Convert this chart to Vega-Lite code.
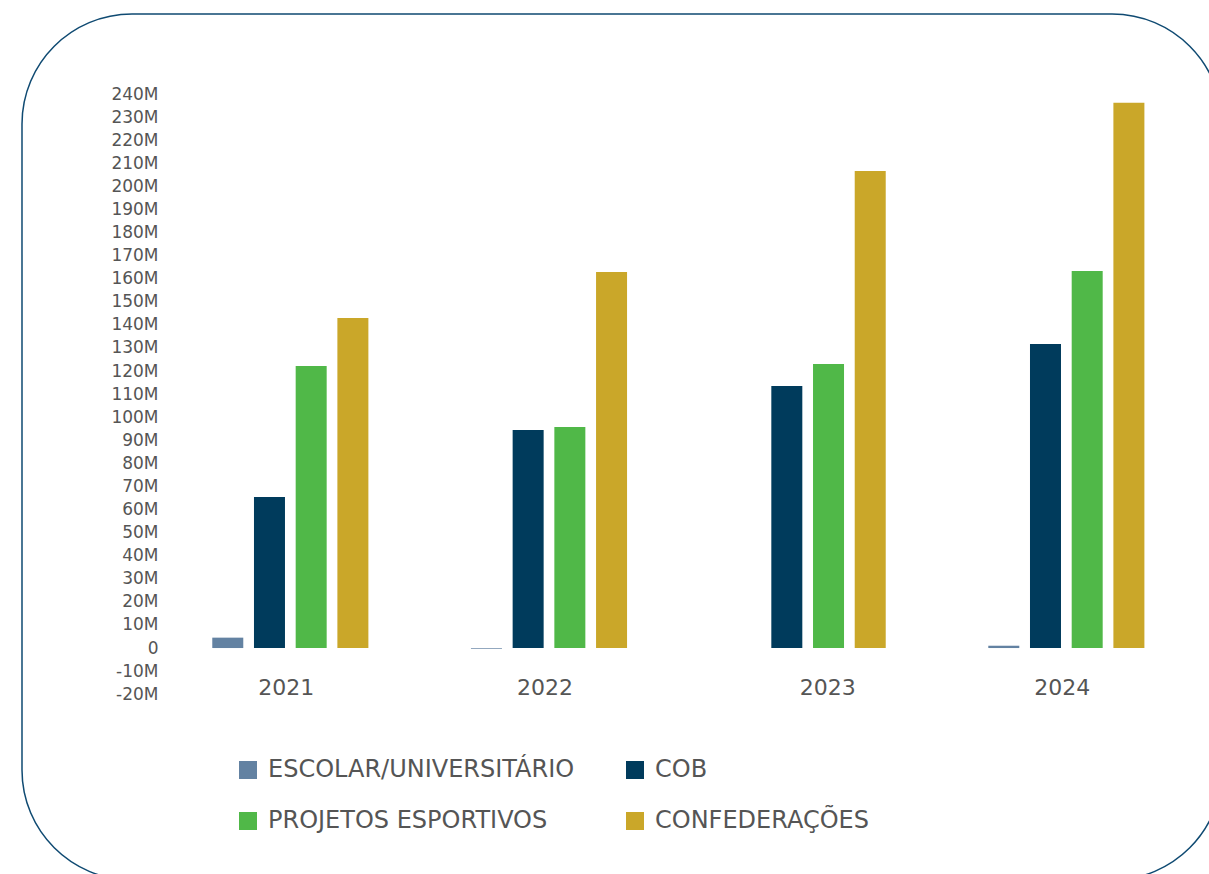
{
  "$schema": "https://vega.github.io/schema/vega-lite/v6.json",
  "width": 1200,
  "height": 866,
  "autosize": {"type": "none"},
  "padding": {"left": 22, "top": 14, "right": -13, "bottom": -6},
  "background": "white",
  "config": {
    "view": {"stroke": "#0f4a72", "strokeWidth": 1.5, "cornerRadius": 110, "fill": "white"},
    "font": "DejaVu Sans"
  },
  "data": {
    "values": [
      {"ano": "2021", "tipo": "ESCOLAR/UNIVERSITÁRIO", "valor": 4.5},
      {"ano": "2021", "tipo": "COB", "valor": 65.4},
      {"ano": "2021", "tipo": "PROJETOS ESPORTIVOS", "valor": 122.2},
      {"ano": "2021", "tipo": "CONFEDERAÇÕES", "valor": 143.0},
      {"ano": "2022", "tipo": "ESCOLAR/UNIVERSITÁRIO", "valor": -0.3},
      {"ano": "2022", "tipo": "COB", "valor": 94.5},
      {"ano": "2022", "tipo": "PROJETOS ESPORTIVOS", "valor": 95.8},
      {"ano": "2022", "tipo": "CONFEDERAÇÕES", "valor": 162.9},
      {"ano": "2023", "tipo": "ESCOLAR/UNIVERSITÁRIO", "valor": 0},
      {"ano": "2023", "tipo": "COB", "valor": 113.5},
      {"ano": "2023", "tipo": "PROJETOS ESPORTIVOS", "valor": 123.1},
      {"ano": "2023", "tipo": "CONFEDERAÇÕES", "valor": 206.7},
      {"ano": "2024", "tipo": "ESCOLAR/UNIVERSITÁRIO", "valor": 1.0},
      {"ano": "2024", "tipo": "COB", "valor": 131.7},
      {"ano": "2024", "tipo": "PROJETOS ESPORTIVOS", "valor": 163.4},
      {"ano": "2024", "tipo": "CONFEDERAÇÕES", "valor": 236.2}
    ]
  },
  "mark": {"type": "bar"},
  "encoding": {
    "x": {
      "field": "ano",
      "type": "nominal",
      "scale": {"paddingInner": 0.3965, "paddingOuter": 0.5178, "align": 0.7103},
      "axis": {
        "title": null,
        "orient": "bottom",
        "offset": -205,
        "domain": false,
        "ticks": false,
        "grid": false,
        "labelAngle": 0,
        "labelBaseline": "top",
        "labelPadding": 2,
        "labelFont": "DejaVu Sans",
        "labelFontSize": 22,
        "labelColor": "#555555",
        "labelOffset": {"condition": {"test": "datum.value === '2023'", "value": 20}, "value": -4}
      }
    },
    "xOffset": {
      "field": "tipo",
      "type": "nominal",
      "sort": ["ESCOLAR/UNIVERSITÁRIO", "COB", "PROJETOS ESPORTIVOS", "CONFEDERAÇÕES"],
      "scale": {"paddingInner": 0.2566, "paddingOuter": 0}
    },
    "y": {
      "field": "valor",
      "type": "quantitative",
      "stack": null,
      "scale": {"domain": [-100.5, 274.7], "nice": false, "zero": false},
      "axis": {
        "title": null,
        "orient": "left",
        "offset": -138,
        "values": [-20, -10, 0, 10, 20, 30, 40, 50, 60, 70, 80, 90, 100, 110, 120, 130, 140, 150, 160, 170, 180, 190, 200, 210, 220, 230, 240],
        "labelExpr": "datum.value == 0 ? '0' : datum.value + 'M'",
        "domain": false,
        "ticks": false,
        "grid": false,
        "labelPadding": 2,
        "labelFont": "DejaVu Sans",
        "labelFontSize": 17,
        "labelColor": "#555555",
        "labelOverlap": false
      }
    },
    "color": {
      "field": "tipo",
      "type": "nominal",
      "scale": {
        "domain": ["ESCOLAR/UNIVERSITÁRIO", "PROJETOS ESPORTIVOS", "COB", "CONFEDERAÇÕES"],
        "range": ["#6382a2", "#50b848", "#003b5c", "#caa729"]
      },
      "legend": {
        "title": null,
        "orient": "none",
        "legendX": 214,
        "legendY": 744,
        "columns": 2,
        "padding": 0,
        "symbolType": "square",
        "symbolSize": 324,
        "symbolStrokeWidth": 0,
        "labelFont": "DejaVu Sans",
        "labelFontSize": 24,
        "labelColor": "#555555",
        "labelOffset": 8,
        "labelLimit": 500,
        "columnPadding": 48,
        "rowPadding": 27
      }
    }
  }
}
